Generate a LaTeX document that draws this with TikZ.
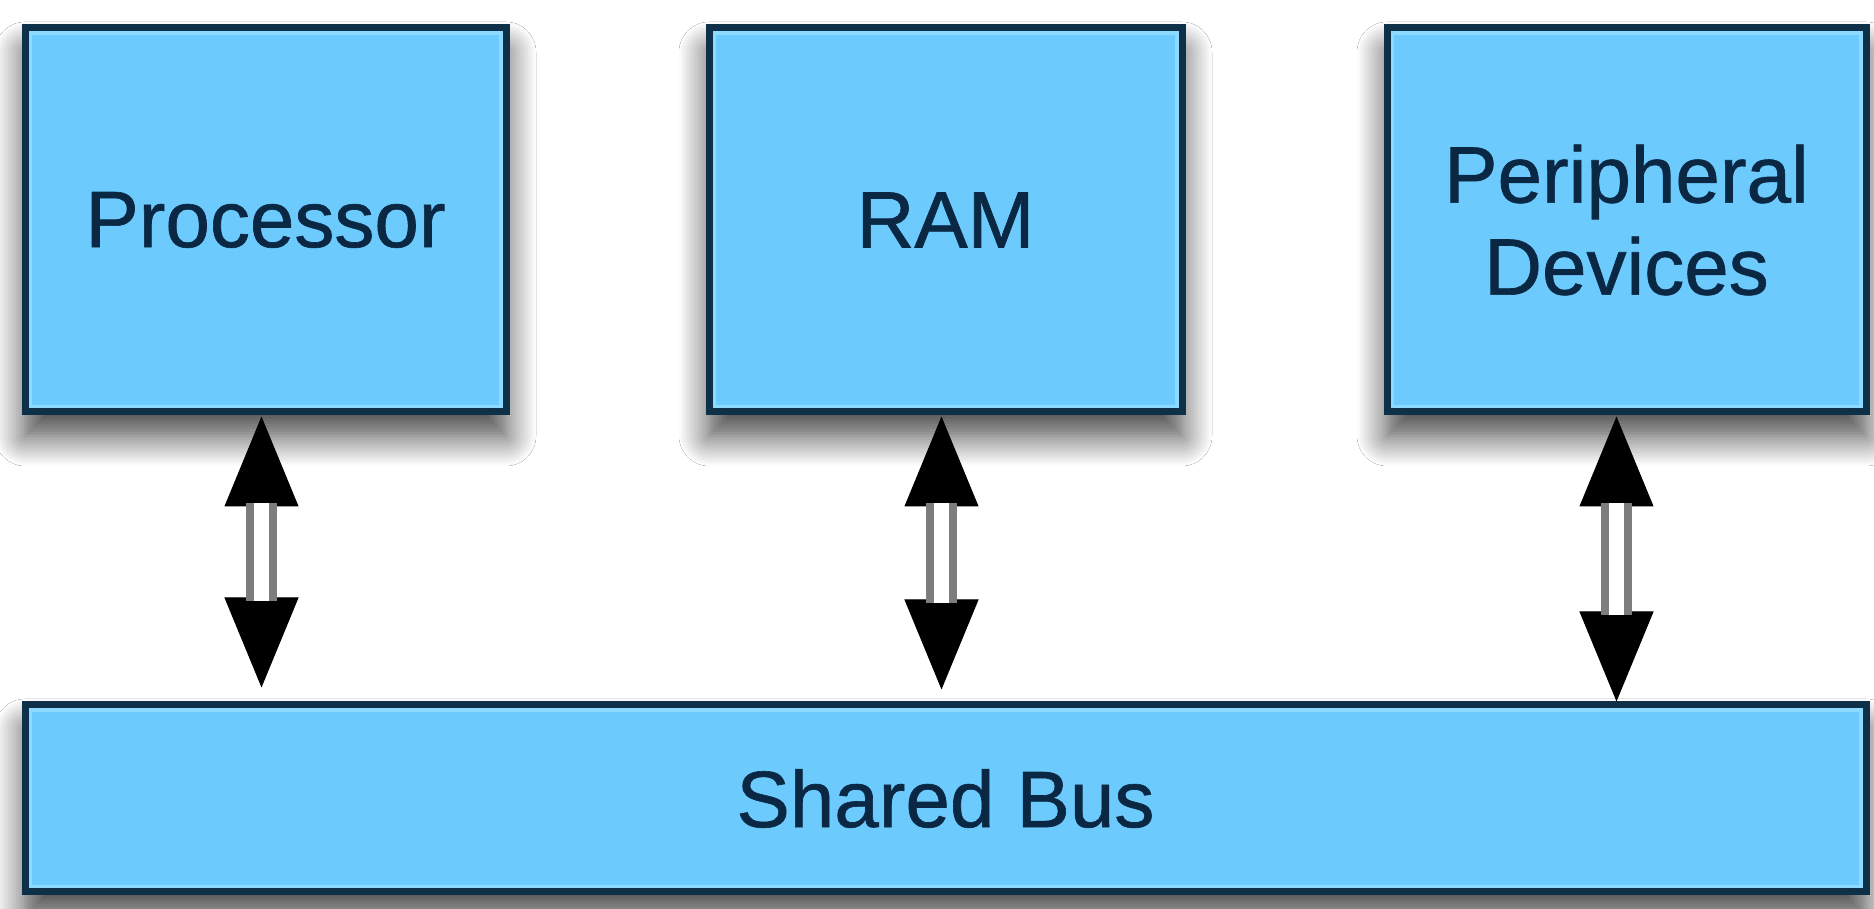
\documentclass[tikz,border=0pt]{standalone}
\usepackage{fontspec}
\setmainfont[FakeBold=0.8]{Liberation Sans}
\usetikzlibrary{shadows.blur,arrows.meta}
\definecolor{boxfill}{RGB}{108,202,252}
\definecolor{boxline}{RGB}{14,48,72}
\definecolor{boxstrip}{RGB}{140,218,255}
\definecolor{txt}{RGB}{10,40,68}
\definecolor{shaft}{RGB}{125,125,125}
\tikzset{
  blockbox/.style={rectangle, draw=boxline, line width=7pt, fill=boxfill,
    text=txt, font=\fontsize{80}{92}\selectfont, align=center, inner sep=0pt,
    path picture={\draw[boxstrip, line width=14pt] (path picture bounding box.south west) rectangle (path picture bounding box.north east);},
    blur shadow={shadow xshift=0pt, shadow yshift=-24pt, shadow blur radius=30pt, shadow blur steps=12, shadow opacity=75}},
  headpair/.style={black, line width=1pt,
    {Triangle[length=90pt,width=74pt]}-{Triangle[length=90pt,width=74pt]}},
  shaftline/.style={draw=shaft, double=white, double distance=15pt, line width=8pt}
}
\begin{document}
\begin{tikzpicture}[x=1pt,y=1pt]
\useasboundingbox[fill=white] (0,0) rectangle (1874,909);
\node[blockbox, minimum width=481pt, minimum height=384pt] (proc) at (265.5,689) {Processor};
\node[blockbox, minimum width=473pt, minimum height=384pt] (ram) at (945.5,689) {RAM};
\node[blockbox, minimum width=479pt, minimum height=384pt] (peri) at (1626.5,689) {Peripheral\\Devices};
\node[blockbox, minimum width=1841pt, minimum height=187pt] (bus) at (945.5,110.5) {Shared Bus};
\foreach \n/\dx/\gap in {proc/-4/14, ram/-4/12, peri/-10/0}{
  \draw[headpair, shorten <=1pt, shorten >=\gap pt] ([xshift=\dx pt]\n.south) -- ([xshift=\dx pt]\n.south |- bus.north);
  \draw[shaftline, shorten <=88pt, shorten >=86pt+\gap pt] ([xshift=\dx pt]\n.south) -- ([xshift=\dx pt]\n.south |- bus.north);
}
\end{tikzpicture}
\end{document}
